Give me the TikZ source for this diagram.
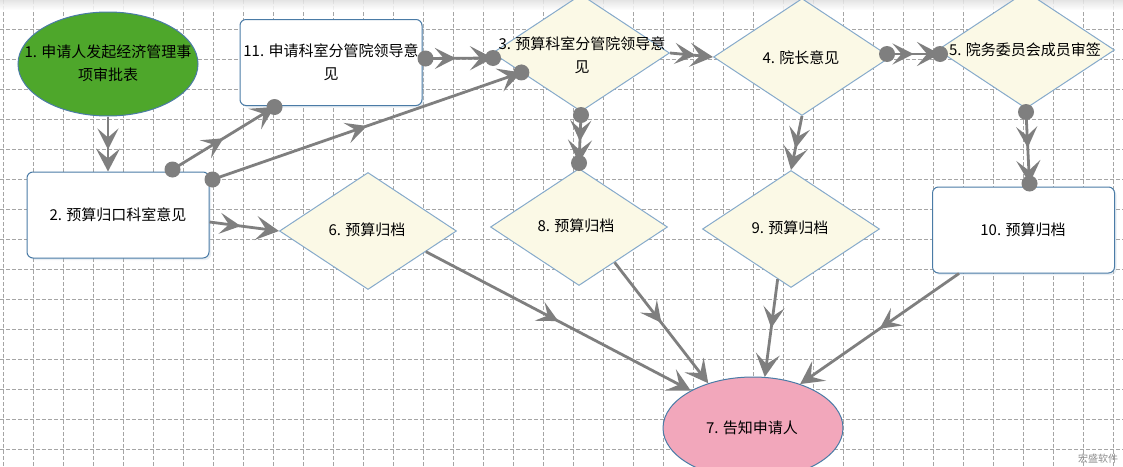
\documentclass[tikz,border=0pt]{standalone}
\usepackage{fontspec}
\setmainfont{Noto Sans CJK SC}
\usetikzlibrary{shapes.geometric,arrows.meta,decorations.markings,calc,shadows}
\definecolor{edgegray}{HTML}{7F7F7F}
\definecolor{nodeborder}{HTML}{4A7BA6}
\definecolor{diaborder}{HTML}{86AACB}
\definecolor{diafill}{HTML}{FBF9E6}
\definecolor{greenfill}{HTML}{4EA72B}
\definecolor{pinkfill}{HTML}{F2A7BB}
\definecolor{gridgray}{HTML}{A5A5A5}
\begin{document}
\begin{tikzpicture}[x=1pt,y=-1pt,
  txt/.style={font=\fontsize{15}{23}\selectfont, align=center, text=black, inner sep=0pt},
  boxnode/.style={draw=nodeborder, line width=1pt, fill=white, rounded corners=6pt,
    minimum width=182pt, minimum height=86pt, inner sep=0pt,
    drop shadow={shadow xshift=2pt, shadow yshift=-2pt, opacity=0.25, fill=nodeborder!50}},
  dianode/.style={diamond, draw=diaborder, line width=1pt, fill=diafill,
    minimum width=177pt, minimum height=117pt, inner sep=0pt},
  ellnode/.style={ellipse, draw=nodeborder, line width=1pt, minimum width=180pt,
    minimum height=104pt, inner sep=0pt},
  gridline/.style={draw=gridgray, line width=0.9pt, dash pattern=on 3.5pt off 2.5pt},
  flow/.style={draw=edgegray, color=edgegray, line width=2.8pt,
    -{Stealth[length=23pt,width=24pt,inset=10pt]},
    postaction={decorate},
    decoration={markings, mark=at position #1 with {\arrow{Stealth[length=21pt,width=21pt,inset=9pt]}}}},
  flow/.default=0.5,
  portdot/.style={fill=edgegray}
]
\useasboundingbox (0,0) rectangle (1123,466);
\clip (0,0) rectangle (1123,466);
\fill[white] (0,0) rectangle (1123,466);
% grid
\foreach \x in {3,33,...,1123} \draw[gridline] (\x,0) -- (\x,466);
\foreach \y in {29,59,...,466} \draw[gridline] (0,\y) -- (1123,\y);
\shade[top color=black!12, bottom color=white, opacity=0.85] (0,0) rectangle (1123,10);

% nodes
\node[ellnode, fill=greenfill] (e1) at (108,64) {};
\node[txt] (t1) at (108,63.5) {1. 申请人发起经济管理事\\项审批表};

\node[boxnode] (n11) at (331,62.5) {};
\node[txt] (t11) at (331,62.5) {11. 申请科室分管院领导意\\见};

\node[boxnode] (n2) at (118,215) {};
\node[txt] (t2) at (118,215) {2. 预算归口科室意见};

\node[boxnode] (n10) at (1023.5,230) {};
\node[txt] (t10) at (1023,230) {10. 预算归档};

\node[dianode] (d3) at (581,53) {};
\node[txt] (t3) at (582,55) {3. 预算科室分管院领导意\\见};

\node[dianode] (d4) at (802,57) {};
\node[txt] (t4) at (801,58) {4. 院长意见};

\node[dianode] (d5) at (1026,50) {};
\node[txt] (t5) at (1025,50) {5. 院务委员会成员审签};

\node[dianode] (d6) at (368,231) {};
\node[txt] (t6) at (367,230) {6. 预算归档};

\node[dianode] (d8) at (579,227) {};
\node[txt] (t8) at (576,226) {8. 预算归档};

\node[dianode] (d9) at (791,229) {};
\node[txt] (t9) at (790,228) {9. 预算归档};

\node[ellnode, fill=pinkfill, minimum height=102pt] (e7) at (753,428) {};
\node[txt] (t7) at (752,428) {7. 告知申请人};

\node[font=\fontsize{10}{12}\selectfont, text=black!45, inner sep=0pt] (wm) at (1098,459) {宏盛软件};

% ports
\coordinate (p2a) at ($(n2.north east)+(-37,-2)$);
\coordinate (p11a) at ($(n11.south west)+(35,1)$);
\coordinate (p2b) at ($(n2.north east)+(3,8)$);
\coordinate (p3a) at ($(d3.west)!0.33!(d3.south)$);
\coordinate (p11b) at ($(n11.east)+(3,-4)$);
\coordinate (p3b) at ($(d3.west)+(1,5)$);
\coordinate (p2c) at ($(n2.east)+(0,7)$);
\coordinate (p6a) at ($(d6.east)!0.35!(d6.south)$);
\coordinate (p8a) at ($(d8.east)!0.6!(d8.south)$);
\coordinate (p9a) at ($(d9.south)!0.15!(d9.west)$);
\coordinate (p10a) at ($(n10.south west)+(27,0)$);
\coordinate (p3c) at ($(d3.south)+(0,3)$);
\coordinate (p8b) at ($(d8.north)+(0,-5)$);
\coordinate (p4a) at ($(d4.east)+(-4,-3)$);
\coordinate (p5a) at ($(d5.west)+(3,4)$);
\coordinate (p5b) at ($(d5.south)+(0,3)$);
\coordinate (p10b) at ($(n10.north)+(6,-3)$);

% port dots
\foreach \p in {p2a,p11a,p2b,p3a,p11b,p3b,p3c,p8b,p4a,p5a,p5b,p10b}
  \fill[portdot] (\p) circle (8);

% connectors
\draw[flow=0.6] (e1.south) -- (e1.south |- n2.north);
\draw[flow] (p2a) -- (p11a);
\draw[flow] (p2b) -- (p3a);
\draw[flow=0.45] (p11b) -- (p3b);
\draw[flow=0.45] (p2c) -- (d6.west);
\draw[flow=0.55] (p3c) -- (p8b);
\draw[flow=0.6] (d3.east) -- (d4.west);
\draw[flow=0.6] (d4.south) -- (d9.north);
\draw[flow=0.5] (p4a) -- (p5a);
\draw[flow=0.5] (p5b) -- (p10b);
\draw[flow] (p6a) -- (e7.149);
\draw[flow] (p8a) -- (e7.135);
\draw[flow] (p9a) -- (e7.77);
\draw[flow] (p10a) -- (e7.43);
\end{tikzpicture}
\end{document}
